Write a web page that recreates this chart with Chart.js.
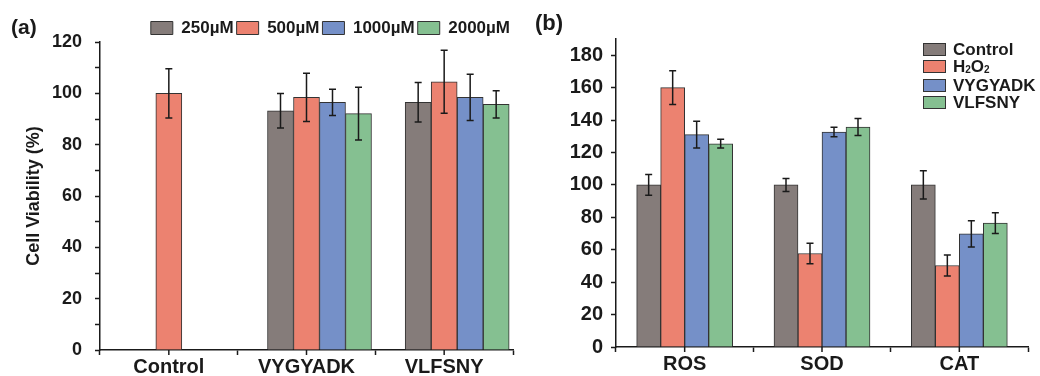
<!DOCTYPE html>
<html>
<head>
<meta charset="utf-8">
<script src="https://cdn.jsdelivr.net/npm/chart.js@4.4.1/dist/chart.umd.min.js"></script>
<style>
  body { margin: 0; background: #fff; font-family: 'Liberation Sans', Arial, sans-serif; }
  #wrap { position: relative; width: 1040px; height: 376px; overflow: hidden; }
  .panel { position: absolute; top: 0; }
  .tag { position: absolute; font-weight: bold; color: #1a1a1a; }
  .lg { position: absolute; left: 923px; height: 14px; font-weight: bold; font-size: 17px; color: #1a1a1a; white-space: nowrap; }
  .lg i { position: absolute; left: 0; top: 0; width: 21px; height: 11px; border: 1px solid #333; }
  .lg span { position: absolute; left: 30px; top: -3px; line-height: 20px; }
  .lg sub { font-size: 10px; vertical-align: -1px; }
</style>
</head>
<body>
<div id="wrap">
  <div class="panel" style="left:0"><canvas id="chartA" width="520" height="376"></canvas></div>
  <div class="panel" style="left:520px"><canvas id="chartB" width="520" height="376"></canvas></div>
  <div class="tag" style="left:11px;top:15px;font-size:21px">(a)</div>
  <div class="tag" style="left:535px;top:10px;font-size:22px">(b)</div>
  <div class="lg" style="top:43px"><i style="background:#857c7a"></i><span>Control</span></div>
  <div class="lg" style="top:60px"><i style="background:#ec8270"></i><span>H<sub>2</sub>O<sub>2</sub></span></div>
  <div class="lg" style="top:79px"><i style="background:#7590c8"></i><span>VYGYADK</span></div>
  <div class="lg" style="top:96px"><i style="background:#85c091"></i><span>VLFSNY</span></div>
</div>
<script>
// panel (a) - cell viability
var groupsA = ['Control', 'VYGYADK', 'VLFSNY'];
var v250 = [null, 93.2, 96.5];
var e250 = [null, 6.7, 7.7];
var v500 = [100, 98.4, 104.5];
var e500 = [9.6, 9.4, 12.3];
var v1000 = [null, 96.5, 98.4];
var e1000 = [null, 5.1, 9.0];
var v2000 = [null, 92.1, 95.7];
var e2000 = [null, 10.3, 5.3];

// panel (b) - ROS / SOD / CAT
var groupsB = ['ROS', 'SOD', 'CAT'];
var ctrlB = [100, 100, 100];
var eCtrlB = [6.4, 4.0, 8.7];
var h2o2B = [160, 57.7, 50.3];
var eH2o2B = [10.4, 6.3, 6.5];
var vygB = [131, 132.6, 69.8];
var eVygB = [8.3, 2.9, 8.1];
var vlfB = [125.4, 135.7, 76.4];
var eVlfB = [2.7, 5.2, 6.4];

var GRAY = '#857c7a', RED = '#ec8270', BLUE = '#7590c8', GREEN = '#85c091';
var INK = '#1a1a1a';

Chart.defaults.font.family = "'Liberation Sans', Arial, sans-serif";
Chart.defaults.font.weight = 'bold';
Chart.defaults.color = INK;

var errorBars = {
    id: 'errorBars',
    afterDatasetsDraw: function (chart) {
        var ctx = chart.ctx, y = chart.scales.y;
        ctx.save();
        ctx.strokeStyle = INK;
        ctx.lineWidth = 1.5;
        chart.data.datasets.forEach(function (ds, di) {
            if (!ds.errors) return;
            chart.getDatasetMeta(di).data.forEach(function (bar, i) {
                var v = ds.data[i], e = ds.errors[i];
                if (v == null || e == null) return;
                var t = y.getPixelForValue(v + e), b = y.getPixelForValue(v - e);
                ctx.beginPath();
                ctx.moveTo(bar.x, t); ctx.lineTo(bar.x, b);
                ctx.moveTo(bar.x - 3.5, t); ctx.lineTo(bar.x + 3.5, t);
                ctx.moveTo(bar.x - 3.5, b); ctx.lineTo(bar.x + 3.5, b);
                ctx.stroke();
            });
        });
        ctx.restore();
    }
};

// small ticks under each category label (grid draws the boundary ones)
var centerTicks = {
    id: 'centerTicks',
    afterDraw: function (chart) {
        var xs = chart.scales.x, ctx = chart.ctx;
        ctx.save();
        ctx.strokeStyle = INK;
        ctx.lineWidth = 1.5;
        xs.ticks.forEach(function (t, i) {
            var px = xs.getPixelForTick(i);
            ctx.beginPath();
            ctx.moveTo(px, xs.top);
            ctx.lineTo(px, xs.top + 5);
            ctx.stroke();
        });
        ctx.restore();
    }
};

function yAxis(max, width, labelSize, pad, title) {
    return {
        min: 0,
        max: max,
        afterFit: function (s) { s.width = width; },
        ticks: {
            stepSize: 10,
            padding: pad,
            font: { size: labelSize },
            callback: function (v) { return v % 20 === 0 && v < 190 ? v : ''; }
        },
        grid: { drawOnChartArea: false, tickLength: 5, tickColor: INK, tickWidth: 1.5 },
        border: { color: INK, width: 1.5 },
        title: title
    };
}

function xAxis(height) {
    return {
        afterFit: function (s) { s.height = height; },
        ticks: { padding: 0, font: { size: 20 } },
        grid: { drawOnChartArea: false, offset: true, tickLength: 5, tickColor: INK, tickWidth: 1.5 },
        border: { color: INK, width: 1.5 }
    };
}

function barSet(label, data, errs, color, thick) {
    return {
        label: label, data: data, errors: errs,
        backgroundColor: color, borderColor: '#333', borderWidth: 1,
        barThickness: thick
    };
}

new Chart(document.getElementById('chartA'), {
    type: 'bar',
    data: {
        labels: groupsA,
        datasets: [
            // empty slot so the 500 µM bar sits on the category tick
            { label: '', data: [null, null, null], barThickness: 26 },
            barSet('250µM', v250, e250, GRAY, 26),
            barSet('500µM', v500, e500, RED, 26),
            barSet('1000µM', v1000, e1000, BLUE, 26),
            barSet('2000µM', v2000, e2000, GREEN, 26)
        ]
    },
    options: {
        responsive: false,
        animation: false,
        layout: { padding: { left: 0, right: 7, top: 16.5, bottom: 0 } },
        scales: {
            x: xAxis(26),
            y: yAxis(120, 100, 18, 13, {
                display: true, text: 'Cell Viability (%)',
                font: { size: 18, weight: 'bold' }, padding: { top: 23, bottom: 0 }
            })
        },
        plugins: {
            tooltip: { enabled: false },
            legend: {
                position: 'top',
                align: 'end',
                maxHeight: 25.5,
                labels: {
                    boxWidth: 22, boxHeight: 13, padding: 3,
                    font: { size: 17, weight: 'bold' },
                    filter: function (item) { return item.text !== ''; }
                }
            }
        }
    },
    plugins: [errorBars, centerTicks]
});

new Chart(document.getElementById('chartB'), {
    type: 'bar',
    data: {
        labels: groupsB,
        datasets: [
            barSet('Control', ctrlB, eCtrlB, GRAY, 24),
            barSet('H2O2', h2o2B, eH2o2B, RED, 24),
            barSet('VYGYADK', vygB, eVygB, BLUE, 24),
            barSet('VLFSNY', vlfB, eVlfB, GREEN, 24)
        ]
    },
    options: {
        responsive: false,
        animation: false,
        layout: { padding: { left: 0, right: 12, top: 39, bottom: 0 } },
        scales: {
            x: xAxis(29),
            y: yAxis(190, 96, 20, 8, { display: false })
        },
        plugins: {
            tooltip: { enabled: false },
            legend: { display: false }
        }
    },
    plugins: [errorBars, centerTicks]
});
</script>
</body>
</html>
